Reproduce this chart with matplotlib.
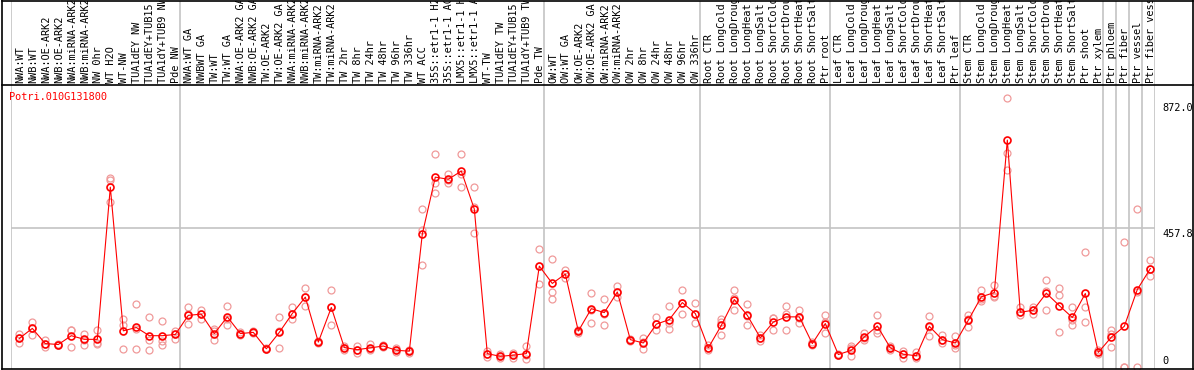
import matplotlib
matplotlib.use("Agg")
import matplotlib.pyplot as plt
from matplotlib.lines import Line2D
import numpy as np

# sample names, in plotting order
samples = ["NWA:WT", "NWB:WT", "NWA:OE-ARK2", "NWB:OE-ARK2", "NWA:miRNA-ARK2", "NWB:miRNA-ARK2",
           "NW 0hr", "WT H2O", "WT-NW", "TUA1dEY NW", "TUA1dEY+TUB15 NW", "TUA1dY+TUB9 NW", "Pde NW",
           "NWA:WT GA", "NWBWT GA", "TW:WT", "TW:WT GA", "NWA:OE-ARK2 GA", "NWB:OE-ARK2 GA",
           "TW:OE-ARK2", "TW:OE-ARK2 GA", "NWA:miRNA-ARK2 GA", "NWB:miRNA-ARK2 GA", "TW:miRNA-ARK2",
           "TW:miRNA-ARK2 GA", "TW 2hr", "TW 8hr", "TW 24hr", "TW 48hr", "TW 96hr", "TW 336hr", "WT ACC",
           "35S::etr1-1 H2O", "35S::etr1-1 ACC", "LMX5::etr1-1 H2O", "LMX5::etr1-1 ACC", "WT-TW",
           "TUA1dEY TW", "TUA1dEY+TUB15 TW", "TUA1dY+TUB9 TW", "Pde TW",
           "OW:WT", "OW:WT GA", "OW:OE-ARK2", "OW:OE-ARK2 GA", "OW:miRNA-ARK2", "OW:miRNA-ARK2 GA",
           "OW 2hr", "OW 8hr", "OW 24hr", "OW 48hr", "OW 96hr", "OW 336hr",
           "Root CTR", "Root LongCold", "Root LongDrought", "Root LongHeat", "Root LongSalt",
           "Root ShortCold", "Root ShortDrought", "Root ShortHeat", "Root ShortSalt", "Ptr root",
           "Leaf CTR", "Leaf LongCold", "Leaf LongDrought", "Leaf LongHeat", "Leaf LongSalt",
           "Leaf ShortCold", "Leaf ShortDrought", "Leaf ShortHeat", "Leaf ShortSalt", "Ptr leaf",
           "Stem CTR", "Stem LongCold", "Stem LongDrought", "Stem LongHeat", "Stem LongSalt",
           "Stem ShortCold", "Stem ShortDrought", "Stem ShortHeat", "Stem ShortSalt", "Ptr shoot",
           "Ptr xylem", "Ptr phloem", "Ptr fiber", "Ptr vessel", "Ptr fiber vessel"]

# where the gray separators go (sample index of group start)
group_breaks = [0, 13, 41, 53, 63, 73, 84, 85, 86, 87, 88]

mean_vals = [95, 128, 78, 75, 104, 92, 92, 593, 120, 131, 104, 104, 108,
             171, 175, 111, 166, 111, 115, 61, 115, 177, 231, 83, 197, 65, 58, 64, 70, 56, 53,
             439, 626, 619, 646, 521, 45, 36, 40, 45, 333,
             276, 307, 119, 193, 180, 248, 91, 80, 142, 157, 213, 177,
             64, 138, 223, 171, 97, 149, 166, 166, 78, 144,
             42, 56, 100, 136, 64, 43, 38, 135, 91, 80,
             155, 232, 246, 748, 181, 188, 244, 203, 164, 243, 49,
             99, 135, 256, 325]

rep_a = [111, 148, 89, 78, 124, 111, 122, 624, 160, 208, 164, 152, 120,
         197, 188, 125, 201, 116, 118, 64, 164, 197, 260, 86, 256, 70, 70, 78, 74, 63, 58,
         520, 701, 636, 701, 593, 55, 44, 47, 69, 391,
         355, 320, 123, 243, 226, 268, 94, 97, 164, 201, 256, 210,
         75, 160, 254, 208, 106, 163, 201, 190, 82, 171,
         44, 69, 113, 171, 71, 52, 49, 170, 105, 102,
         171, 254, 270, 886, 199, 199, 289, 260, 199, 379, 56,
         122, 413, 520, 353]
rep_b = [95, 128, 78, 75, 122, 90, 80, 617, 140, 126, 89, 88, 110,
         176, 175, 120, 160, 111, 115, 61, 118, 177, 232, 83, 197, 65, 58, 60, 70, 56, 53,
         452, 606, 615, 636, 527, 45, 36, 40, 40, 333,
         248, 307, 118, 190, 177, 248, 91, 84, 142, 145, 213, 177,
         64, 150, 228, 168, 97, 163, 175, 162, 78, 148,
         42, 62, 98, 124, 64, 45, 38, 132, 90, 75,
         160, 224, 236, 705, 181, 188, 252, 237, 155, 199, 49,
         108, 0, 248, 325]
rep_c = [80, 106, 67, 72, 67, 75, 76, 545, 60, 59, 56, 72, 92,
         141, 160, 89, 138, 106, 113, 59, 65, 158, 201, 81, 138, 58, 47, 56, 67, 49, 47,
         336, 573, 606, 593, 441, 35, 29, 29, 28, 274,
         226, 293, 114, 147, 138, 230, 88, 59, 122, 127, 174, 146,
         56, 105, 188, 138, 86, 122, 122, 147, 74, 113,
         40, 36, 89, 113, 57, 30, 31, 103, 80, 64,
         133, 219, 232, 648, 171, 175, 190, 116, 138, 150, 43,
         67, 0, 0, 300]

gene = "Potri.010G131800"
ytick_vals = [872.0, 457.8, 0]
ytick_text = ["872.0", "457.8", "0"]

W, H = 1194, 370
font = dict(family="DejaVu Sans Mono", fontsize=7.4)
grid_c = "#c4c4c4"
light = "#f09a9a"

fig = plt.figure(figsize=(W / 100, H / 100), dpi=100)
fig.patch.set_facecolor("white")

n = len(samples)
x = np.arange(n) + 0.64

# label strip on top, names cut off at the top like the original
lab = fig.add_axes([11 / W, (H - 84.5) / H, (1155 - 11) / W, 84 / H])
lab.set_xlim(0, n)
lab.set_ylim(0, 84)
lab.axis("off")
for b in group_breaks:
    lab.axvline(b, color=grid_c, lw=1.2)
for xi, s in zip(x, samples):
    lab.text(xi + 0.05, 1.5, s, rotation=90, ha="center", va="bottom", clip_on=True, **font)

# main plot
ax = fig.add_axes([11 / W, (H - 368.5) / H, (1155 - 11) / W, 284 / H])
ax.set_xlim(0, n)
ax.set_ylim(-4, 931)
for sp in ax.spines.values():
    sp.set_visible(False)
ax.set_xticks([])
ax.set_yticks([])
for b in group_breaks:
    ax.axvline(b, color=grid_c, lw=1.2, zorder=0)
ax.axhline(ytick_vals[1], color=grid_c, lw=1.2, zorder=0)

for reps in (rep_a, rep_b, rep_c):
    ax.plot(x, reps, ls="none", marker="o", ms=5, mfc="none", mec=light, mew=0.9, zorder=2)
ax.plot(x, mean_vals, color="red", lw=0.8, marker="o", ms=5, mfc="none", mec="red", mew=1.2, zorder=3)

ax.text(-0.15, 889, gene, color="red", ha="left", va="center", **font)

for v, t in zip(ytick_vals, ytick_text):
    ax.annotate(t, (1, v), xycoords=("axes fraction", "data"), xytext=(7, 1 if v == 0 else -1),
                textcoords="offset pixels", ha="left", va="bottom" if v == 0 else "top",
                annotation_clip=False, **font)

# black frame + divider under labels
for xs, ys in [([1.5, 1.5], [0, H - 1]), ([W - 1.5, W - 1.5], [0, H - 1]),
               ([1.5, W - 1.5], [0.5, 0.5]), ([1.5, W - 1.5], [368.5, 368.5]),
               ([1.5, W - 1.5], [84.5, 84.5])]:
    fig.add_artist(Line2D([p / W for p in xs], [1 - p / H for p in ys], color="black", lw=1.2))

fig.savefig("out.png", dpi=100)
